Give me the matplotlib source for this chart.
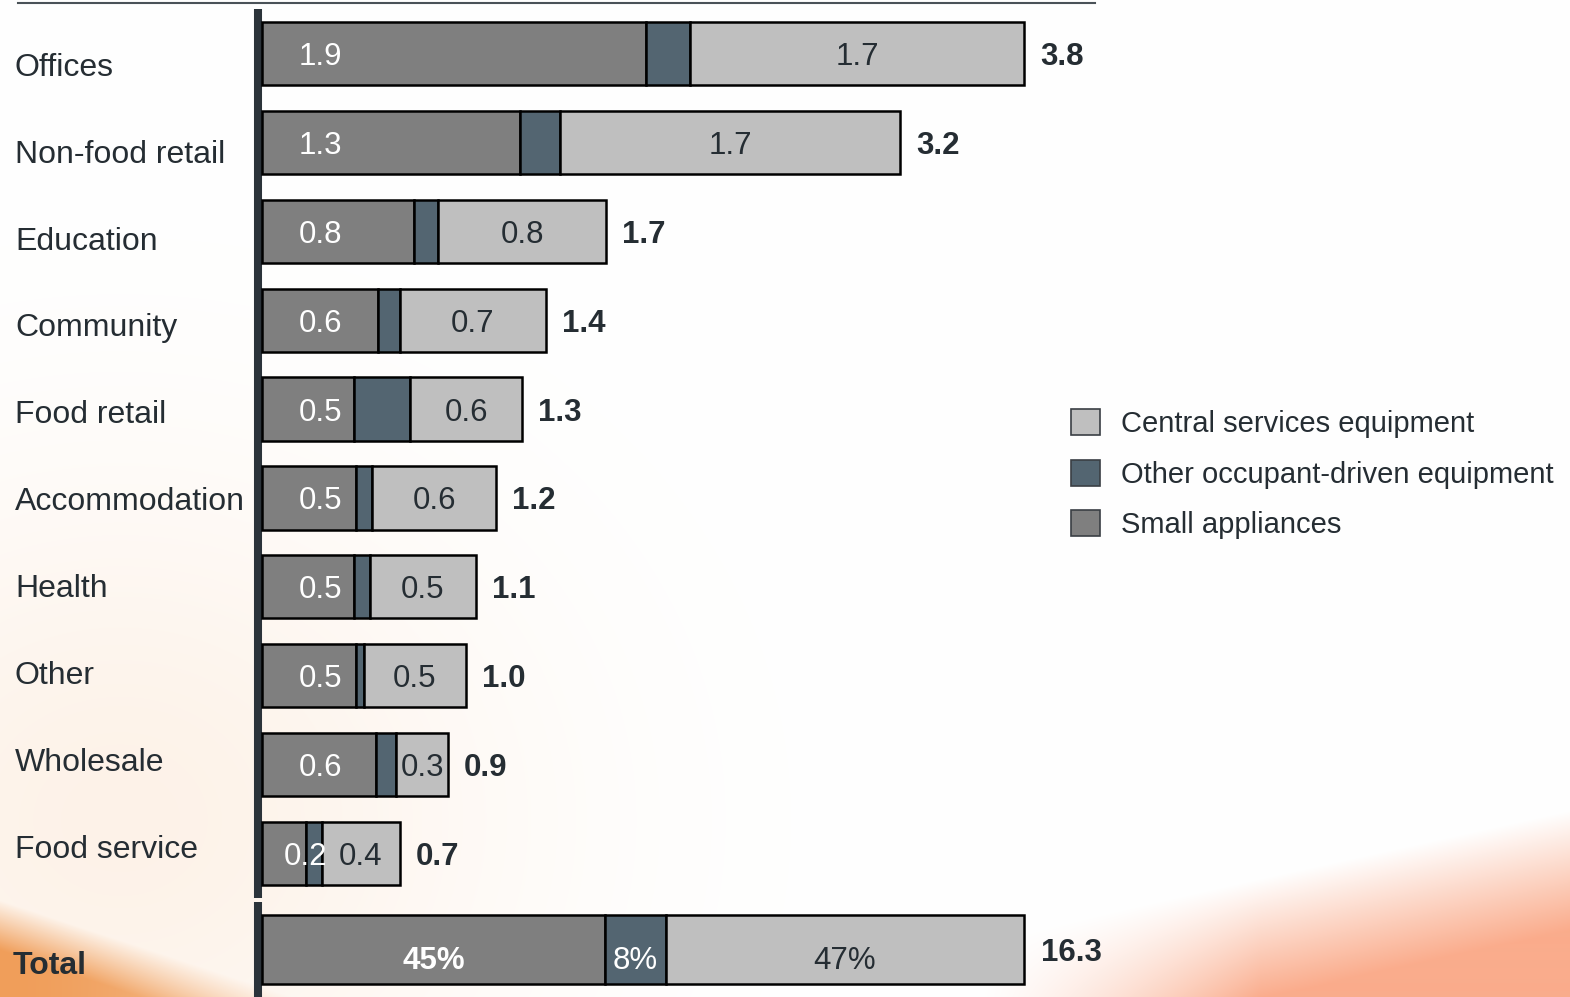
import numpy as np
import matplotlib
matplotlib.use("Agg")
import matplotlib.pyplot as plt
import matplotlib.transforms as mtransforms
from matplotlib.patches import Patch
from matplotlib.lines import Line2D

plt.rcParams['font.family'] = ['Liberation Sans', 'DejaVu Sans']

# energy use by building type, split by equipment group
categories = ["Offices", "Non-food retail", "Education", "Community", "Food retail",
              "Accommodation", "Health", "Other", "Wholesale", "Food service"]
small_appliances = np.array([1.92, 1.29, 0.76, 0.58, 0.46, 0.47, 0.46, 0.47, 0.57, 0.22])
other_occupant = np.array([0.22, 0.20, 0.12, 0.11, 0.28, 0.08, 0.08, 0.04, 0.10, 0.08])
central_services = np.array([1.67, 1.70, 0.84, 0.73, 0.56, 0.62, 0.53, 0.51, 0.26, 0.39])

series_names = ["Small appliances", "Other occupant-driven equipment", "Central services equipment"]
total_share = np.array([45, 8, 47])
total_value = 16.3

C_SMALL = '#7f7f7f'
C_OTHER = '#536571'
C_CENTRAL = '#bfbfbf'
C_TEXT = '#252d33'
C_SPINE = '#2b333a'
FS = 22.5
FS_CAT = 23

W, H = 1570, 997


def px_rect(l, t, r, b):
    return [l / W, 1 - b / H, (r - l) / W, (b - t) / H]


def background():
    yy, xx = np.mgrid[0:H, 0:W].astype(float)
    img = np.ones((H, W, 3))

    def blend(a, rgb):
        nonlocal img
        a = np.clip(a, 0, 1)[..., None]
        img = img * (1 - a) + np.array(rgb) / 255.0 * a

    # faint warm haze on the left
    haze = 0.55 * np.exp(-((xx - 120) / 380) ** 2 - ((yy - 820) / 330) ** 2)
    blend(haze, (252, 232, 214))
    # orange sweep in the bottom-left corner
    d = yy - (900 + xx * 0.33)
    left_sw = np.clip(d / 50, 0, 1) * np.exp(-(xx / 330) ** 2)
    blend(left_sw, (240, 158, 90))
    # salmon sweep along the bottom right
    line_r = 1005 - (xx - 1000) * 0.22
    right_sw = np.clip((yy - (line_r - 70)) / 120, 0, 1) * np.clip((xx - 980) / 280, 0, 1)
    blend(right_sw, (250, 172, 140))
    return img


fig = plt.figure(figsize=(W / 100, H / 100), dpi=100)

bg = fig.add_axes([0, 0, 1, 1], zorder=-10)
bg.imshow(background(), aspect='auto', interpolation='bilinear')
bg.axis('off')

fig.add_artist(Line2D([18 / W, 1095 / W], [1 - 3 / H, 1 - 3 / H],
                      transform=fig.transFigure, color='#4a5258', lw=1.5))

ax = fig.add_axes(px_rect(258, 9, 1100, 898))
ax_t = fig.add_axes(px_rect(258, 902, 1100, 997))

y = np.arange(len(categories))
segments = [(small_appliances, C_SMALL), (other_occupant, C_OTHER), (central_services, C_CENTRAL)]
left = np.zeros(len(categories))
for vals, color in segments:
    ax.barh(y, vals, left=left, height=0.71, color=color, edgecolor='black',
            linewidth=1.8, zorder=3)
    left = left + vals
row_totals = left

x_lo, x_hi = -0.02, 4.19
ax.set_xlim(x_lo, x_hi)
ax.set_ylim(len(categories) - 0.5, -0.5)

for i in range(len(categories)):
    ax.text(min(0.29, small_appliances[i]), i, f"{small_appliances[i]:.1f}", color='white',
            fontsize=FS, ha='center', va='center_baseline', zorder=5)
    cx = small_appliances[i] + other_occupant[i] + central_services[i] / 2
    ax.text(cx, i, f"{central_services[i]:.1f}", color=C_TEXT, fontsize=FS,
            ha='center', va='center_baseline', zorder=5)
    ax.text(row_totals[i] + 0.08, i, f"{row_totals[i]:.1f}", color=C_TEXT,
            fontsize=FS, fontweight='bold', ha='left', va='center_baseline', zorder=5)

# row labels sit in the left margin
lbl_tr = mtransforms.blended_transform_factory(fig.transFigure, ax.transData)
for i, name in enumerate(categories):
    ax.text(15 / W, i * 0.978 + 0.12, name, transform=lbl_tr, color=C_TEXT,
            fontsize=FS_CAT, ha='left', va='center_baseline')

# total bar, scaled so 100% matches the longest row
scale = 100 / row_totals.max()
ax_t.set_xlim(x_lo * scale, x_hi * scale)
ax_t.set_ylim(0.5, -0.5)
t_left = 0
share_styles = [('white', 'bold'), ('white', 'normal'), (C_TEXT, 'normal')]
for share, (_, color), (tc, tw) in zip(total_share, segments, share_styles):
    ax_t.barh(0, share, left=t_left, height=0.726, color=color, edgecolor='black',
              linewidth=1.8, zorder=3)
    ax_t.text(t_left + share / 2, 0.08, f"{share}%", color=tc, fontweight=tw,
              fontsize=FS, ha='center', va='center_baseline', zorder=5)
    t_left += share
ax_t.text(t_left + 2.2, 0, f"{total_value:.1f}", color=C_TEXT, fontsize=FS,
          fontweight='bold', ha='left', va='center_baseline', zorder=5)
fig.text(13 / W, 1 - 962 / H, "Total", color=C_TEXT, fontsize=FS_CAT,
         fontweight='bold', ha='left', va='center_baseline')

for a in (ax, ax_t):
    a.set_facecolor('none')
    a.set_xticks([])
    a.set_yticks([])
    for s in ('top', 'right', 'bottom'):
        a.spines[s].set_visible(False)
    a.spines['left'].set_linewidth(5.8)
    a.spines['left'].set_color(C_SPINE)
    a.spines['left'].set_capstyle('butt')

handles = [Patch(facecolor=c, edgecolor='#3a3f44', linewidth=1.2) for _, c in segments]
fig.legend(handles[::-1], series_names[::-1], loc='upper left',
           bbox_to_anchor=(1071 / W, 1 - 409 / H), frameon=False, fontsize=21,
           labelcolor=C_TEXT, handlelength=1.0, handleheight=1.0,
           handletextpad=0.72, labelspacing=0.74, borderpad=0, borderaxespad=0)

fig.savefig("out.png", dpi=100)
